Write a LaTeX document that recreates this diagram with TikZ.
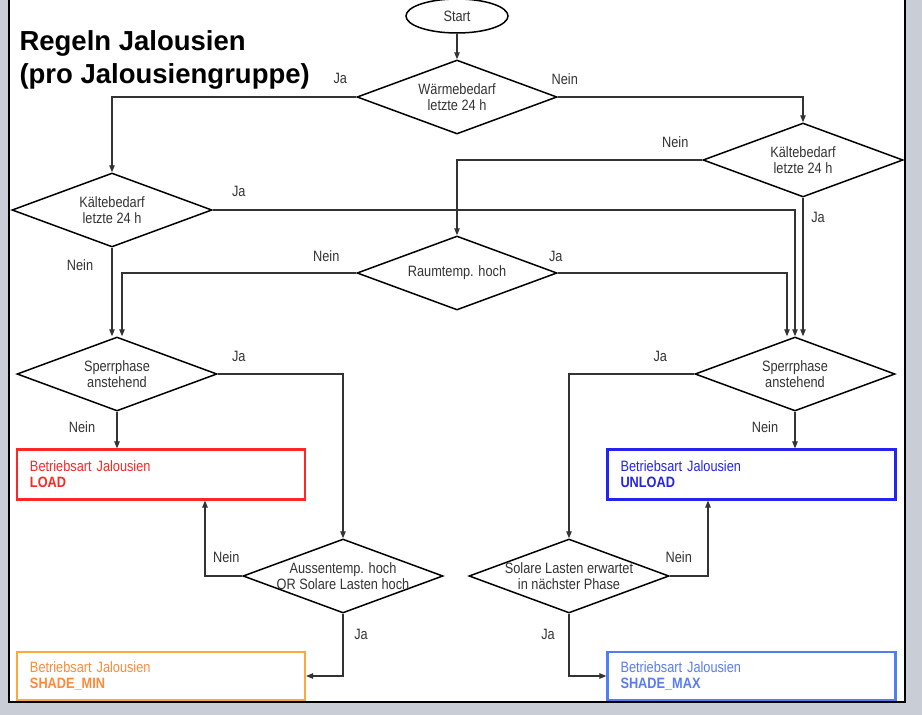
\documentclass[tikz,border=0pt]{standalone}
\usepackage{fontspec}
\setmainfont{Liberation Sans}
\newfontfamily\narrowfont[FakeStretch=0.85]{Liberation Sans}
\usetikzlibrary{shapes.geometric,arrows.meta,positioning}
\definecolor{panelgray}{HTML}{C9CDD5}
\definecolor{loadred}{HTML}{FF2626}
\definecolor{unloadblue}{HTML}{2424EE}
\definecolor{minorange}{HTML}{FFA83A}
\definecolor{mintext}{HTML}{FF8A3A}
\definecolor{maxblue}{HTML}{4F7DF5}
\definecolor{maxtext}{HTML}{5A7CF0}
\tikzset{
  every node/.style={font=\narrowfont\fontsize{15}{16}\selectfont},
  every label/.style={text=black!80},
  decision/.style={diamond, draw, line width=1.5pt, minimum width=200pt,
    minimum height=74pt, inner sep=0pt},
  modebox/.style={draw, line width=2.2pt, minimum width=288pt, minimum height=50pt,
    text width=262pt, inner xsep=13pt, align=left},
  answer/.style={text=black!80},
  flow/.style={draw=black!80, line width=1.1pt, -{Triangle[length=7pt,width=5.5pt]}}
}
\begin{document}
\begin{tikzpicture}[x=1pt,y=-1pt]
      % panel
      \useasboundingbox (0,0) rectangle (922,715);
      \fill[panelgray] (0,0) rectangle (922,715);
      \fill[white] (9,-5) rectangle (905,702);
      \draw[line width=2.5pt] (9,-5) -- (9,702) -- (905,702) -- (905,-5);
      \node[anchor=base west, align=left, font=\bfseries\fontsize{27.5}{33}\selectfont]
        (title) at (16,83) {Regeln Jalousien\\(pro Jalousiengruppe)};
      % decisions
      \node[ellipse, draw, line width=1.5pt, minimum width=102pt, minimum height=34pt,
        inner sep=0pt, text=black!80] (start) at (457,16) {Start};
      \node[decision, label={[align=center]center:Wärmebedarf\\letzte 24 h}] (warm) at (457,97) {};
      \node[decision, label={[align=center]center:Kältebedarf\\letzte 24 h}] (kaltL) at (112,210) {};
      \node[decision, label={[align=center]center:Kältebedarf\\letzte 24 h}] (kaltR) at (803,160) {};
      \node[decision, label={center:Raumtemp. hoch}] (raum) at (457,273) {};
      \node[decision, label={[align=center]center:Sperrphase\\anstehend}] (sperrL) at (117,374) {};
      \node[decision, label={[align=center]center:Sperrphase\\anstehend}] (sperrR) at (795,374) {};
      \node[decision, label={[align=center]center:Aussentemp. hoch\\OR Solare Lasten hoch}] (aussen) at (343,576) {};
      \node[decision, label={[align=center]center:Solare Lasten erwartet\\in nächster Phase}] (solar) at (569,576) {};
      % modes
      \node[modebox, draw=loadred, text=loadred] (load) at (161,474.5)
        {Betriebsart Jalousien\\\textbf{LOAD}};
      \node[modebox, draw=unloadblue, text=unloadblue] (unload) at (751.5,474.5)
        {Betriebsart Jalousien\\\textbf{UNLOAD}};
      \node[modebox, draw=minorange, text=mintext, minimum height=48pt] (shmin) at (161,676)
        {Betriebsart Jalousien\\\textbf{SHADE\_MIN}};
      \node[modebox, draw=maxblue, text=maxtext, minimum height=48pt] (shmax) at (751.5,676)
        {Betriebsart Jalousien\\\textbf{SHADE\_MAX}};
      % answers
      \node[answer] (warmJa) at ([shift={(-16,-19)}]warm.west) {Ja};
      \node[answer] (warmNein) at ([shift={(7,-18)}]warm.east) {Nein};
      \node[answer] (kaltRNein) at ([shift={(-27,-18)}]kaltR.west) {Nein};
      \node[answer] (kaltRJa) at ([shift={(15,20)}]kaltR.south) {Ja};
      \node[answer] (kaltLJa) at ([shift={(26,-19)}]kaltL.east) {Ja};
      \node[answer] (kaltLNein) at ([shift={(-32,17)}]kaltL.south) {Nein};
      \node[answer] (raumNein) at ([shift={(-30,-17)}]raum.west) {Nein};
      \node[answer] (raumJa) at ([shift={(-2,-17)}]raum.east) {Ja};
      \node[answer] (sperrLJa) at ([shift={(21,-18)}]sperrL.east) {Ja};
      \node[answer] (sperrLNein) at ([shift={(-35,15)}]sperrL.south) {Nein};
      \node[answer] (sperrRJa) at ([shift={(-34,-18)}]sperrR.west) {Ja};
      \node[answer] (sperrRNein) at ([shift={(-30,15)}]sperrR.south) {Nein};
      \node[answer] (aussenNein) at ([shift={(-16,-19)}]aussen.west) {Nein};
      \node[answer] (aussenJa) at ([shift={(18,21)}]aussen.south) {Ja};
      \node[answer] (solarNein) at ([shift={(9,-19)}]solar.east) {Nein};
      \node[answer] (solarJa) at ([shift={(-21,21)}]solar.south) {Ja};
      % flow
      \draw[flow] (start.south) -- (warm.north);
      \draw[flow] (warm.west) -| (kaltL.north);
      \draw[flow] (warm.east) -| (kaltR.north);
      \draw[flow] (kaltR.west) -| (raum.north);
      \draw[flow] (kaltR.south) -- (kaltR.south |- sperrR.north);
      \draw[flow] (kaltL.east) -| (sperrR.north);
      \draw[flow] (kaltL.south) -- (kaltL.south |- sperrL.north);
      \draw[flow] (raum.west) -| ([xshift=5pt]sperrL.north);
      \draw[flow] (raum.east) -| ([xshift=-8pt]sperrR.north);
      \draw[flow] (sperrL.east) -| (aussen.north);
      \draw[flow] (sperrL.south) -- (sperrL.south |- load.north);
      \draw[flow] (sperrR.west) -| (solar.north);
      \draw[flow] (sperrR.south) -- (sperrR.south |- unload.north);
      \draw[flow] (aussen.west) -| ([xshift=44pt]load.south);
      \draw[flow] (aussen.south) |- (shmin.east);
      \draw[flow] (solar.east) -| ([xshift=-43.5pt]unload.south);
      \draw[flow] (solar.south) |- (shmax.west);
\end{tikzpicture}
\end{document}
